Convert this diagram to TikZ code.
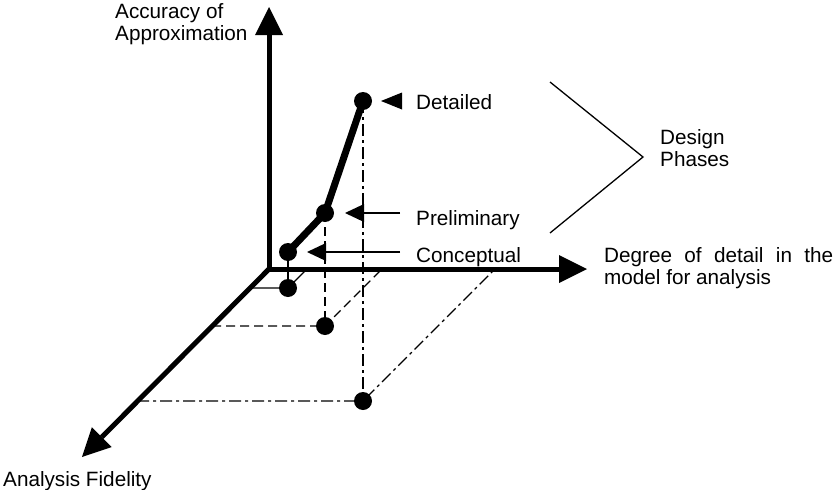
\documentclass[tikz,border=0pt]{standalone}
\usepackage{fontspec}
\setmainfont{Liberation Sans}
\usetikzlibrary{arrows.meta}
\begin{document}
\begin{tikzpicture}[x=1pt,y=-1pt,
  axishead/.tip={Triangle[length=28pt,width=28pt,line width=0pt]},
  axis/.style={line width=5pt, line join=miter},
  thinline/.style={line width=1.3pt},
  phase/.style={line width=7pt, line join=round, line cap=round},
  dot/.style={circle, fill=black, minimum size=18pt, inner sep=0pt},
  lbl/.style={font=\fontsize{20.7}{22}\selectfont, inner sep=0pt, anchor=base west, align=left},
  dashedline/.style={thinline, dash pattern=on 9pt off 5pt},
  dashdot/.style={thinline, dash pattern=on 12pt off 4pt on 3pt off 4pt},
  pointer/.style={thinline, -{Triangle[length=19pt,width=18pt,line width=0pt]}},
]
\useasboundingbox (0,0) rectangle (836,490);
% axes
\coordinate (O) at (269,269);
\coordinate (Ytip) at (269,7);
\coordinate (Xtip) at (587,269);
\coordinate (Ztip) at (82,457);
% points
\coordinate (C) at (288,252);
\coordinate (P) at (325,213);
\coordinate (D) at (363,101);
% floor projections
\coordinate (Cf) at (288,288);
\coordinate (Cx) at (307,269);
\coordinate (Cz) at (250,288);
\coordinate (Pf) at (325,326);
\coordinate (Px) at (382,269);
\coordinate (Pz) at (212,326);
\coordinate (Df) at (363,401);
\coordinate (Dx) at (495,269);
\coordinate (Dz) at (137,401);
% floor lines
\draw[thinline] (C) -- (Cf);
\draw[thinline] (Cz) -- (Cf) -- (Cx);
\draw[dashedline] (P) -- (Pf);
\draw[dashedline] (Pz) -- (Pf) -- (Px);
\draw[dashdot] (D) -- (Df);
\draw[dashdot] (Dz) -- (Df) -- (Dx);
% axes
\draw[axis, {axishead}-{axishead}] (Ytip) -- (O) -- (Xtip);
\draw[axis, -{axishead}] (O) -- (Ztip);
% phase curve
\draw[phase] (C) -- (P) -- (D);
\node[dot] (Cdot) at (C) {};
\node[dot] (Pdot) at (P) {};
\node[dot] (Ddot) at (D) {};
\node[dot] (Cfdot) at (Cf) {};
\node[dot] (Pfdot) at (Pf) {};
\node[dot] (Dfdot) at (Df) {};
% pointers
\coordinate (Ctail) at (400,252);
\coordinate (Chead) at (307,252);
\coordinate (Ptail) at (400,213);
\coordinate (Phead) at (345,213);
\draw[pointer] (Ctail) -- (Chead);
\draw[pointer] (Ptail) -- (Phead);
\coordinate (Dhead) at (381,101);
\fill (402,92.5) -- (Dhead) -- (402,109.5) -- cycle;
% design phases bracket
\coordinate (B1) at (550,82);
\coordinate (B2) at (643,157);
\coordinate (B3) at (550,233);
\draw[thinline, line join=miter] (B1) -- (B2) -- (B3);
% labels
\node[lbl] (acc) at (115,40) {Accuracy of\\Approximation};
\node[lbl] (det) at (416,109) {Detailed};
\node[lbl] (pre) at (416,225) {Preliminary};
\node[lbl] (con) at (416,262) {Conceptual};
\node[lbl] (des) at (660,166) {Design\\Phases};
\node[lbl] (deg) at (604,284) {\makebox[229pt][s]{Degree of detail in the}\\model for analysis};
\node[lbl] (fid) at (3,486) {Analysis Fidelity};
\end{tikzpicture}
\end{document}
